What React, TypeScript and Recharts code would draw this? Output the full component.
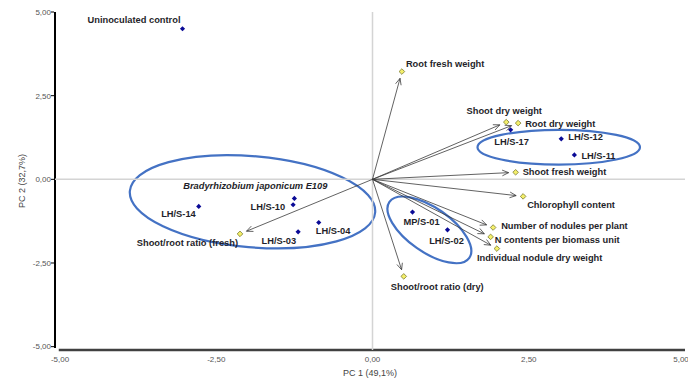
import React from 'react';
import { ScatterChart, Scatter, XAxis, YAxis, ReferenceLine, ReferenceArea } from 'recharts';

// ---- data ----
const sampleNames = [
  'Uninoculated control', 'LH/S-14', 'Bradyrhizobium japonicum E109', 'LH/S-10', 'LH/S-03',
  'LH/S-04', 'MP/S-01', 'LH/S-02', 'LH/S-17', 'LH/S-12', 'LH/S-11',
];
const samplePC1 = [-3.04, -2.78, -1.25, -1.27, -1.19, -0.86, 0.64, 1.2, 2.21, 3.02, 3.23];
const samplePC2 = [4.5, -0.81, -0.57, -0.76, -1.57, -1.29, -0.98, -1.51, 1.48, 1.21, 0.73];

const variableNames = [
  'Root fresh weight', 'Shoot dry weight', 'Root dry weight', 'Shoot fresh weight',
  'Chlorophyll content', 'Number of nodules per plant', 'N contents per biomass unit',
  'Individual nodule dry weight', 'Shoot/root ratio (dry)', 'Shoot/root ratio (fresh)',
];
const variablePC1 = [0.47, 2.14, 2.33, 2.29, 2.41, 1.93, 1.89, 1.99, 0.5, -2.12];
const variablePC2 = [3.22, 1.71, 1.68, 0.21, -0.51, -1.44, -1.72, -2.07, -2.9, -1.63];

const axisTicks = [-5, -2.5, 0, 2.5, 5];
const X_DOMAIN: [number, number] = [-5.08, 5];
const Y_DOMAIN: [number, number] = [-5.1, 5];

// group ellipses (centre and semi-axes in axis units, tilt in degrees)
const groupCenterX = [-1.92, 2.98, 0.91];
const groupCenterY = [-0.67, 0.96, -1.51];
const groupRadiusX = [1.97, 1.3, 0.78];
const groupRadiusY = [1.36, 0.52, 0.66];
const groupTilt = [5, 0, 35];

// ---- label placement (styling) ----
type Place = [string, number, number];
const labelPlace: Record<string, Place> = {
  'Uninoculated control': ['end', -2, -9],
  'LH/S-14': ['end', -3, 8],
  'Bradyrhizobium japonicum E109': ['end', 33, -12],
  'LH/S-10': ['end', -8, 2],
  'LH/S-03': ['end', -2, 9],
  'LH/S-04': ['start', -3, 9],
  'MP/S-01': ['middle', 9, 10],
  'LH/S-02': ['middle', -1, 11],
  'LH/S-17': ['middle', 1, 12],
  'LH/S-12': ['start', 7, -2],
  'LH/S-11': ['start', 7, 1],
  'Root fresh weight': ['start', 4, -8],
  'Shoot dry weight': ['middle', -2, -11],
  'Root dry weight': ['start', 7, 1],
  'Shoot fresh weight': ['start', 7, 0],
  'Chlorophyll content': ['start', 4, 9],
  'Number of nodules per plant': ['start', 8, -2],
  'N contents per biomass unit': ['start', 4, 3],
  'Individual nodule dry weight': ['start', -20, 9],
  'Shoot/root ratio (dry)': ['start', -13, 11],
  'Shoot/root ratio (fresh)': ['end', -2, 9],
};

const FONT = '"Liberation Sans", Arial, sans-serif';
const TEXT_COLOR = '#1f1f2a';

const samples = sampleNames.map((name, i) => ({ name, x: samplePC1[i], y: samplePC2[i] }));
const variables = variableNames.map((name, i) => ({ name, x: variablePC1[i], y: variablePC2[i] }));
const groups = groupCenterX.map((cx, i) => ({
  cx, cy: groupCenterY[i], rx: groupRadiusX[i], ry: groupRadiusY[i], tilt: groupTilt[i],
}));

const fmt = (v: number) => v.toFixed(2).replace('.', ',');

const PointLabel = ({ cx, cy, name }: { cx: number; cy: number; name: string }) => {
  const pl = labelPlace[name] || ['start', 6, 0];
  const italic = name.startsWith('Bradyrhizobium');
  return (
    <text
      x={cx + pl[1]}
      y={cy + pl[2]}
      textAnchor={pl[0] as any}
      dominantBaseline="central"
      fontFamily={FONT}
      fontSize={9.3}
      fontWeight="bold"
      fontStyle={italic ? 'italic' : 'normal'}
      fill={TEXT_COLOR}
    >
      {name}
    </text>
  );
};

const SampleShape = (p: any) => {
  const { cx, cy, payload } = p;
  if (typeof cx !== 'number') return null;
  const s = 2.6;
  return (
    <g>
      <path d={`M${cx},${cy - s}L${cx + s},${cy}L${cx},${cy + s}L${cx - s},${cy}Z`} fill="#0a0a96" />
      <PointLabel cx={cx} cy={cy} name={payload.name} />
    </g>
  );
};

const VariableShape = (p: any) => {
  const { cx, cy, payload } = p;
  if (typeof cx !== 'number') return null;
  const s = 2.8;
  return (
    <g>
      <path
        d={`M${cx},${cy - s}L${cx + s},${cy}L${cx},${cy + s}L${cx - s},${cy}Z`}
        fill="#f4ef6a"
        stroke="#7a7a30"
        strokeWidth={0.8}
      />
      <PointLabel cx={cx} cy={cy} name={payload.name} />
    </g>
  );
};

const ArrowShape = (p: any) => {
  const { x1, y1, x2, y2 } = p;
  if ([x1, y1, x2, y2].some((v) => typeof v !== 'number' || isNaN(v))) return null;
  const dx = x2 - x1;
  const dy = y2 - y1;
  const len = Math.hypot(dx, dy);
  const ux = dx / len;
  const uy = dy / len;
  const tx = x2 - ux * 7;
  const ty = y2 - uy * 7;
  const ah = 7;
  const a = 0.42;
  const bx = -ux;
  const by = -uy;
  const c = Math.cos(a);
  const s = Math.sin(a);
  const p1x = tx + ah * (bx * c - by * s);
  const p1y = ty + ah * (bx * s + by * c);
  const p2x = tx + ah * (bx * c + by * s);
  const p2y = ty + ah * (-bx * s + by * c);
  return (
    <g>
      <line x1={x1} y1={y1} x2={tx} y2={ty} stroke="#3a3a3a" strokeWidth={0.8} />
      <polyline
        points={`${p1x},${p1y} ${tx},${ty} ${p2x},${p2y}`}
        fill="none"
        stroke="#3a3a3a"
        strokeWidth={0.8}
      />
    </g>
  );
};

const makeEllipseShape = (tilt: number) => (p: any) => {
  const { x, y, width, height } = p;
  if ([x, y, width, height].some((v) => typeof v !== 'number' || isNaN(v))) return null;
  const cx = x + width / 2;
  const cy = y + height / 2;
  return (
    <ellipse
      cx={cx}
      cy={cy}
      rx={Math.abs(width) / 2}
      ry={Math.abs(height) / 2}
      transform={`rotate(${tilt} ${cx} ${cy})`}
      fill="none"
      stroke="#4472c4"
      strokeWidth={2.2}
    />
  );
};

// filled bars used as the axis lines (left: vertical, bottom: horizontal)
const YAxisBar = (p: any) => {
  const { x, y, height } = p;
  if ([x, y, height].some((v) => typeof v !== 'number' || isNaN(v))) return null;
  return <rect x={x - 1} y={y} width={2} height={height} fill="#000000" />;
};
const XAxisBar = (p: any) => {
  const { x, y, width, height } = p;
  if ([x, y, width, height].some((v) => typeof v !== 'number' || isNaN(v))) return null;
  return <rect x={x} y={y + height - 1.25} width={width} height={2.5} fill="#404040" />;
};
const YTickBar = (p: any) => {
  const { x, y } = p;
  if ([x, y].some((v) => typeof v !== 'number' || isNaN(v))) return null;
  return <rect x={x - 4} y={y - 0.5} width={3} height={1} fill="#000000" />;
};

const YTitle = (p: any) => {
  const vb = p.viewBox || { x: 0, y: 12, width: 55, height: 338 };
  const x = 22;
  const y = vb.y + vb.height / 2;
  return (
    <text
      x={x}
      y={y}
      transform={`rotate(-90 ${x} ${y})`}
      textAnchor="middle"
      dominantBaseline="central"
      fontFamily={FONT}
      fontSize={9}
      fill="#444"
    >
      PC 2 (32,7%)
    </text>
  );
};

const XTitle = (p: any) => {
  const vb = p.viewBox || { x: 55, y: 350, width: 630, height: 33 };
  const x = vb.x + vb.width / 2;
  return (
    <text x={x} y={373} textAnchor="middle" dominantBaseline="central" fontFamily={FONT} fontSize={9} fill="#444">
      PC 1 (49,1%)
    </text>
  );
};

export default function App() {
  return (
    <div style={{ position: 'absolute', left: 0, top: 0 }}>
      <ScatterChart width={688} height={383} margin={{ top: 12, right: 3, left: 0, bottom: 0 }}>
        <XAxis
          type="number"
          dataKey="x"
          domain={X_DOMAIN}
          ticks={axisTicks}
          allowDataOverflow
          tickFormatter={fmt}
          height={33}
          tickLine={false}
          tickSize={4}
          tickMargin={2}
          axisLine={false}
          tick={{ fontSize: 8, fill: '#555', fontFamily: FONT }}
          label={<XTitle />}
        />
        <YAxis
          type="number"
          dataKey="y"
          domain={Y_DOMAIN}
          ticks={axisTicks}
          allowDataOverflow
          tickFormatter={fmt}
          width={55}
          tickSize={3}
          tickMargin={1}
          tickLine={false}
          axisLine={false}
          tick={{ fontSize: 8, fill: '#555', fontFamily: FONT }}
          label={<YTitle />}
        />
        <ReferenceLine x={0} stroke="#d4d4d4" strokeWidth={1.5} />
        <ReferenceLine y={0} stroke="#d4d4d4" strokeWidth={1.5} />
        <ReferenceArea
          ifOverflow="visible"
          x1={X_DOMAIN[0]}
          x2={X_DOMAIN[0] + 0.05}
          y1={-5.04}
          y2={Y_DOMAIN[1]}
          shape={YAxisBar}
        />
        <ReferenceArea
          ifOverflow="visible"
          x1={-5.02}
          x2={X_DOMAIN[1]}
          y1={Y_DOMAIN[0]}
          y2={Y_DOMAIN[0] + 0.05}
          shape={XAxisBar}
        />
        {axisTicks.map((t) => (
          <ReferenceArea
            key={`yt${t}`}
            ifOverflow="visible"
            x1={X_DOMAIN[0]}
            x2={X_DOMAIN[0] + 0.05}
            y1={t}
            y2={t}
            shape={YTickBar}
          />
        ))}
        {groups.map((g, i) => (
          <ReferenceArea
            key={`g${i}`}
            x1={g.cx - g.rx}
            x2={g.cx + g.rx}
            y1={g.cy - g.ry}
            y2={g.cy + g.ry}
            shape={makeEllipseShape(g.tilt)}
          />
        ))}
        {variables.map((v, i) => (
          <ReferenceLine
            key={`a${i}`}
            segment={[{ x: 0, y: 0 }, { x: v.x, y: v.y }]}
            shape={ArrowShape}
          />
        ))}
        <Scatter data={variables} shape={VariableShape} isAnimationActive={false} />
        <Scatter data={samples} shape={SampleShape} isAnimationActive={false} />
      </ScatterChart>
    </div>
  );
}
